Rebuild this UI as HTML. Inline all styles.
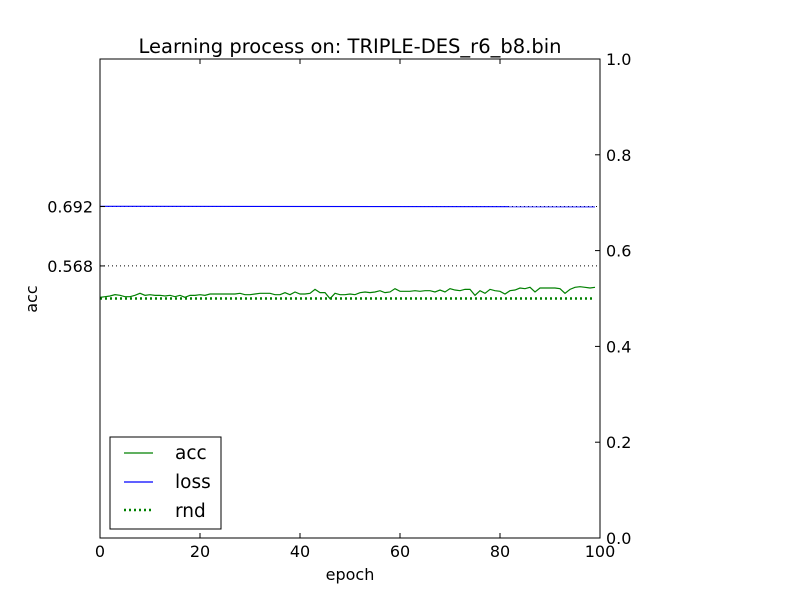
<!DOCTYPE html>
<html><head><meta charset="utf-8"><style>
body{margin:0;background:#fff}
svg{display:block;font-family:"DejaVu Sans","Liberation Sans",sans-serif}
</style></head><body>
<svg id="chart" width="800" height="600" viewBox="0 0 800 600">
<rect width="800" height="600" fill="#fff"/>
<text x="350" y="53" font-size="19.5" text-anchor="middle">Learning process on: TRIPLE-DES_r6_b8.bin</text>
<g id="marks"></g>
<rect x="100" y="59" width="500" height="479" fill="none" stroke="#000" stroke-width="1"/>
<g id="axes"></g>
<text x="350" y="580" font-size="16" text-anchor="middle">epoch</text>
<text x="37" y="299" font-size="16" text-anchor="middle" transform="rotate(-90 37 299)">acc</text>
<g>
<rect x="110" y="437" width="111" height="92" fill="#fff" stroke="#000" stroke-width="1"/>
<line x1="124" y1="453" x2="153" y2="453" stroke="#008000" stroke-width="1.2"/>
<text x="175" y="459" font-size="18.5">acc</text>
<line x1="124" y1="482" x2="153" y2="482" stroke="#0000ff" stroke-width="1.2"/>
<text x="175" y="488" font-size="18.5">loss</text>
<line x1="124" y1="510" x2="153" y2="510" stroke="#008000" stroke-width="2.5" stroke-dasharray="2,3"/>
<text x="175" y="517" font-size="18.5">rnd</text>
</g>
</svg>
<script>
const accValues=[0.5024,0.5038,0.5052,0.508,0.5066,0.5038,0.5038,0.5066,0.5108,0.5066,0.508,0.5066,0.5066,0.5052,0.5066,0.5038,0.5066,0.5024,0.5066,0.5066,0.508,0.5066,0.5094,0.5094,0.5094,0.5094,0.5094,0.5094,0.5108,0.508,0.508,0.5094,0.5108,0.5108,0.5108,0.508,0.508,0.5122,0.508,0.5136,0.5094,0.5094,0.5108,0.5191,0.5122,0.5122,0.4996,0.5108,0.508,0.508,0.5094,0.508,0.5122,0.5136,0.5122,0.5136,0.5163,0.5122,0.5136,0.5205,0.515,0.515,0.515,0.5163,0.515,0.5163,0.5163,0.5136,0.5177,0.5136,0.5205,0.5177,0.5163,0.5191,0.5191,0.5066,0.5163,0.5108,0.5191,0.5163,0.515,0.5094,0.5163,0.5177,0.5219,0.5205,0.5233,0.5136,0.5219,0.5219,0.5219,0.5219,0.5205,0.5108,0.5191,0.5233,0.5247,0.5233,0.5219,0.5233];
const lossStart=0.6925, lossEnd=0.6915;
const rndValue=0.5;
const leftTicks=[0.692,0.568];
const rightTicks=[0,0.2,0.4,0.6,0.8,1.0];
const xTicks=[0,20,40,60,80,100];
const NS="http://www.w3.org/2000/svg";
const X=e=>100+e*5, Y=v=>538-v*479;
function mk(t,a,p){const e=document.createElementNS(NS,t);for(const k in a)e.setAttribute(k,a[k]);p.appendChild(e);return e;}
const marks=document.getElementById('marks'), axes=document.getElementById('axes');
leftTicks.forEach(v=>{
 const g=mk('line',{x1:100,x2:600,y1:Y(v),y2:Y(v),stroke:'#000','stroke-width':1,'stroke-dasharray':'1,3'},marks);
 
 
 const t=mk('text',{x:93,y:Y(v)+6,'font-size':16,'text-anchor':'end'},axes);t.textContent=v.toFixed(3);
 
 
 mk('line',{x1:100,x2:105,y1:Y(v),y2:Y(v),stroke:'#000'},axes);
});
const rnd=mk('line',{x1:X(0),x2:X(99),y1:Y(rndValue),y2:Y(rndValue),stroke:'#008000','stroke-width':2.5,'stroke-dasharray':'2,3'},marks);


const loss=mk('line',{x1:X(0),x2:X(99),y1:Y(lossStart),y2:Y(lossEnd),stroke:'#0000ff','stroke-width':1.2},marks);


const acc=mk('polyline',{points:accValues.map((v,i)=>X(i)+','+Y(v)).join(' '),fill:'none',stroke:'#008000','stroke-width':1.2},marks);


rightTicks.forEach(v=>{
 mk('line',{x1:595,x2:600,y1:Y(v),y2:Y(v),stroke:'#000'},axes);
 const t=mk('text',{x:606,y:Y(v)+6,'font-size':16},axes);t.textContent=v.toFixed(1);
 
 
});
xTicks.forEach(v=>{
 mk('line',{x1:X(v),x2:X(v),y1:533,y2:538,stroke:'#000'},axes);
 mk('line',{x1:X(v),x2:X(v),y1:59,y2:64,stroke:'#000'},axes);
 const t=mk('text',{x:X(v),y:557,'font-size':16,'text-anchor':'middle'},axes);t.textContent=v;
 
 
});
</script>
</body></html>
